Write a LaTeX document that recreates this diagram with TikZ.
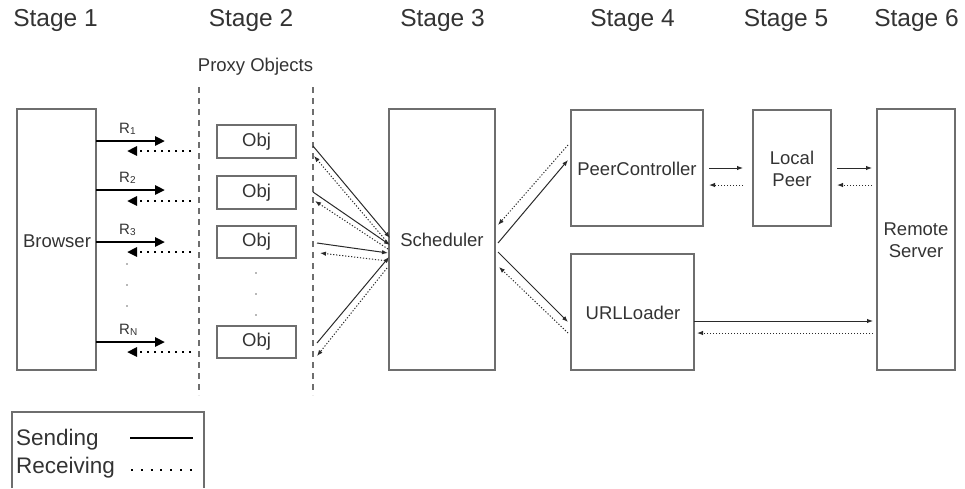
\documentclass[tikz,border=0pt]{standalone}
\usepackage{fontspec}
\setmainfont{Liberation Sans}
\usetikzlibrary{arrows.meta}
\definecolor{boxc}{HTML}{6E6E6E}
\definecolor{txt}{HTML}{333333}
\definecolor{linec}{HTML}{2A2A2A}
\newcommand{\rsub}[2]{#1{\fontsize{10}{10}\selectfont\raisebox{-1pt}{#2}}}
\begin{document}
\begin{tikzpicture}[x=1pt,y=-1pt,
  box/.style={draw=boxc, line width=1.1pt, rectangle, inner sep=0pt, outer sep=0pt, text=txt,
    font=\fontsize{18.5}{22}\selectfont, align=center},
  stagelbl/.style={text=txt, font=\fontsize{24.5}{28}\selectfont, anchor=base, inner sep=0pt},
  rlbl/.style={text=txt, font=\fontsize{15}{15}\selectfont, anchor=base west, inner sep=0pt},
  legtxt/.style={text=txt, font=\fontsize{22.5}{26}\selectfont, anchor=base west, inner sep=0pt},
  vdot/.style={circle, fill=txt!70, inner sep=0pt, minimum size=1.6pt},
  bigsend/.style={line width=2.6pt, draw=black, -{Triangle[length=10pt,width=9pt]}},
  bigrecv/.style={line width=2.6pt, draw=black, dash pattern=on 2.5pt off 4.5pt, -{Triangle[length=10pt,width=9pt]}},
  send/.style={line width=1pt, draw=linec, -{Latex[length=6pt,width=4.5pt]}},
  recv/.style={line width=1pt, draw=linec, dash pattern=on 1.2pt off 1.8pt, -{Latex[length=6pt,width=4.5pt]}},
  sepline/.style={draw=boxc, line width=1.3pt, dash pattern=on 6pt off 5pt},
]
\useasboundingbox (0,0) rectangle (965,488);

% stage labels
\node[stagelbl] (s1) at (55.5,26) {Stage 1};
\node[stagelbl] (s2) at (251,26) {Stage 2};
\node[stagelbl] (s3) at (442.5,26) {Stage 3};
\node[stagelbl] (s4) at (632.5,26) {Stage 4};
\node[stagelbl] (s5) at (786,26) {Stage 5};
\node[stagelbl] (s6) at (916.5,26) {Stage 6};
\node[text=txt, font=\fontsize{18.5}{22}\selectfont, anchor=base, inner sep=0pt] (proxy) at (255.5,71) {Proxy Objects};

% dashed separators
\coordinate (d1t) at (199,87); \coordinate (d1b) at (199,395);
\coordinate (d2t) at (313,87); \coordinate (d2b) at (313,395);
\draw[sepline] (d1t) -- (d1b);
\draw[sepline] (d2t) -- (d2b);

% boxes
\node[box, minimum width=79, minimum height=261, anchor=north west] (browser) at (17,109) {};
\node[text=txt, font=\fontsize{18.5}{22}\selectfont, inner sep=0pt] (browsertxt) at (57,241) {Browser};
\node[box, minimum width=79, minimum height=33, anchor=north west] (o1) at (217,125) {Obj};
\node[box, minimum width=79, minimum height=33, anchor=north west] (o2) at (217,176) {Obj};
\node[box, minimum width=79, minimum height=32, anchor=north west] (o3) at (217,226) {Obj};
\node[box, minimum width=79, minimum height=32, anchor=north west] (o4) at (217,326) {Obj};
\node[box, minimum width=106, minimum height=261, anchor=north west] (sched) at (389,109) {};
\node[text=txt, font=\fontsize{18.5}{22}\selectfont, inner sep=0pt] (schedtxt) at (442,240) {Scheduler};
\node[box, minimum width=132, minimum height=116, anchor=north west] (pc) at (571,110) {};
\node[text=txt, font=\fontsize{18.5}{22}\selectfont, inner sep=0pt] (pctxt) at (637,169) {PeerController};
\node[box, minimum width=123, minimum height=116, anchor=north west] (url) at (571,254) {};
\node[text=txt, font=\fontsize{18.5}{22}\selectfont, inner sep=0pt] (urltxt) at (633,313) {URLLoader};
\node[box, minimum width=78, minimum height=116, anchor=north west] (lp) at (753,110) {};
\node[text=txt, font=\fontsize{18.5}{22.5}\selectfont, inner sep=0pt, align=center] (lptxt) at (792,169) {Local\\Peer};
\node[box, minimum width=78, minimum height=261, anchor=north west] (rs) at (877,109) {};
\node[text=txt, font=\fontsize{18.5}{22.5}\selectfont, inner sep=0pt, align=center] (rstxt) at (916,240) {Remote\\Server};

% Browser <-> proxy arrows
\foreach \i/\ys/\yr/\lab in {1/141/151/1, 2/190/201/2, 3/242/252/3, 4/342/352/N} {
  \coordinate (bs\i) at (165,\ys);
  \coordinate (rf\i) at (191,\yr);
  \coordinate (rt\i) at (127,\yr);
  \draw[bigsend] (browser.east |- bs\i) -- (bs\i);
  \draw[bigrecv] (rf\i) -- (rt\i);
}
\node[rlbl] (l1) at (119,133) {\rsub{R}{1}};
\node[rlbl] (l2) at (119,182) {\rsub{R}{2}};
\node[rlbl] (l3) at (119,234) {\rsub{R}{3}};
\node[rlbl] (l4) at (119,334) {\rsub{R}{N}};
\node[vdot] (vd1) at (127,264) {};
\node[vdot] (vd2) at (127,285) {};
\node[vdot] (vd3) at (127,306) {};
\node[vdot] (od1) at (256,273) {};
\node[vdot] (od2) at (256,294) {};
\node[vdot] (od3) at (256,315) {};

% proxy <-> scheduler
\coordinate (p1s) at (313,146); \coordinate (q1s) at (390,238);
\coordinate (q1r) at (388,243); \coordinate (p1r) at (314,156);
\coordinate (p2s) at (313,192); \coordinate (q2s) at (390,245);
\coordinate (q2r) at (388,249); \coordinate (p2r) at (315,201);
\coordinate (p3s) at (317,243); \coordinate (q3s) at (388,253);
\coordinate (q3r) at (388,261); \coordinate (p3r) at (320,253);
\coordinate (p4s) at (317,343); \coordinate (q4s) at (389,257);
\coordinate (q4r) at (387,268); \coordinate (p4r) at (317,356);
\foreach \i in {1,2,3,4} {
  \draw[send] (p\i s) -- (q\i s);
  \draw[recv] (q\i r) -- (p\i r);
}

% scheduler <-> peercontroller / urlloader
\coordinate (sc1) at (498,243); \coordinate (pcin) at (568,160);
\coordinate (pcout) at (568,145); \coordinate (sc2) at (498,225);
\draw[send] (sc1) -- (pcin);
\draw[recv] (pcout) -- (sc2);
\coordinate (sc3) at (498,252); \coordinate (urlin) at (568,322);
\coordinate (urlout) at (568,333); \coordinate (sc4) at (499,267);
\draw[send] (sc3) -- (urlin);
\draw[recv] (urlout) -- (sc4);

% peercontroller <-> local peer <-> remote server
\draw[send] (709,168) coordinate (a1) -- (743,168) coordinate (a2);
\draw[recv] (743,185) coordinate (a3) -- (709,185) coordinate (a4);
\draw[send] (837,168) coordinate (b1) -- (872,168) coordinate (b2);
\draw[recv] (872,185) coordinate (b3) -- (837,185) coordinate (b4);
\draw[send] (url.east |- 0,321) -- (873,321) coordinate (c2);
\draw[recv] (873,333) coordinate (c3) -- (697,333) coordinate (c4);

% legend
\coordinate (lg1) at (12,488); \coordinate (lg2) at (12,412);
\coordinate (lg3) at (204,412); \coordinate (lg4) at (204,488);
\draw[draw=boxc, line width=1.1pt] (lg1) -- (lg2) -- (lg3) -- (lg4);
\node[legtxt] (lsend) at (16,445) {Sending};
\node[legtxt] (lrecv) at (16,473) {Receiving};
\coordinate (ls1) at (130,438); \coordinate (ls2) at (193,438);
\coordinate (lr1) at (131,470); \coordinate (lr2) at (193,470);
\draw[line width=2pt, draw=black] (ls1) -- (ls2);
\draw[line width=2.2pt, draw=black, dash pattern=on 2pt off 7.8pt] (lr1) -- (lr2);
\end{tikzpicture}
\end{document}
